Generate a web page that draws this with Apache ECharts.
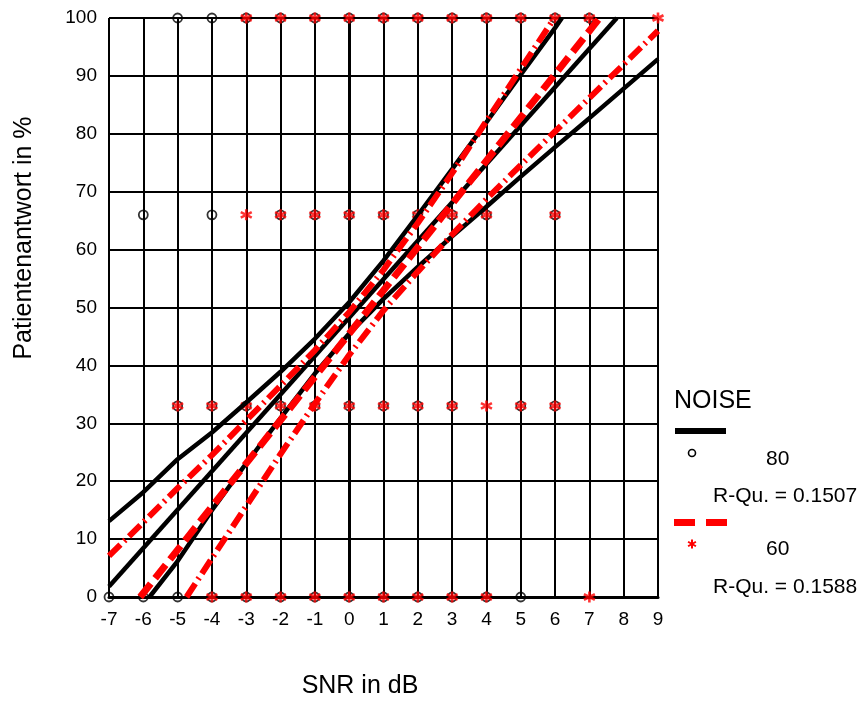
<!DOCTYPE html>
<html>
<head>
<meta charset="utf-8">
<title>Patientenantwort vs SNR</title>
<script src="https://cdn.jsdelivr.net/npm/echarts@6/dist/echarts.min.js"></script>
<style>
  html, body { margin: 0; padding: 0; background: #fff; }
  #chart { width: 863px; height: 701px; }
</style>
</head>
<body>
<div id="chart"></div>
<script>
// x-Achse (SNR in dB) und y-Achse (Patientenantwort in %)
var xMin = -7, xMax = 9, xStep = 1;
var yMin = 0, yMax = 100, yStep = 10;

// Messpunkte NOISE 80 (Kreise): x-Werte je Antwortstufe
var n80At0 = [-7, -6, -5, -4, -3, -2, -1, 0, 1, 2, 3, 4, 5];
var n80At33 = [-5, -4, -3, -2, -1, 0, 1, 2, 3, 5, 6];
var n80At66 = [-6, -4, -2, -1, 0, 1, 2, 3, 4, 6];
var n80At100 = [-5, -4, -3, -2, -1, 0, 1, 2, 3, 4, 5, 6, 7];

// Messpunkte NOISE 60 (Sterne)
var n60At0 = [-4, -3, -2, -1, 0, 1, 2, 3, 4, 7];
var n60At33 = [-5, -4, -3, -2, -1, 0, 1, 2, 3, 4, 5, 6];
var n60At66 = [-3, -2, -1, 0, 1, 2, 3, 4, 6];
var n60At100 = [-3, -2, -1, 0, 1, 2, 3, 4, 5, 6, 7, 9];

// Regressionsgerade + Konfidenzbänder NOISE 80
var fit80 = [[-7, 1.8], [7.8, 100]];
var upper80 = [[-7, 13.1], [-6, 18.1], [-5, 23.8], [-4, 28.4], [-3, 33.6], [-2, 38.9], [-1, 44.6], [0, 50.9],
  [1, 58.1], [2, 65.9], [3, 73.9], [4, 82.0], [5, 90.2], [6, 98.3], [6.2, 100]];
var lower80 = [[-5.82, 0], [-5, 6.2], [-4, 15.0], [-3, 23.1], [-2, 30.9], [-1, 38.6], [0, 45.5], [1, 51.5],
  [2, 57.0], [3, 62.3], [4, 67.4], [5, 72.6], [6, 77.7], [7, 82.7], [8, 87.8], [9, 92.9]];

// Regressionsgerade + Konfidenzbänder NOISE 60
var fit60 = [[-6.09, 0], [7.3, 100]];
var upper60 = [[-7, 7.1], [-6, 12.9], [-5, 18.8], [-4, 24.5], [-3, 30.5], [-2, 36.5], [-1, 42.6], [0, 49.2],
  [1, 56.5], [2, 64.6], [3, 73.2], [4, 82.2], [5, 91.2], [5.98, 100]];
var lower60 = [[-4.74, 0], [-4, 6.7], [-3, 15.7], [-2, 24.7], [-1, 33.4], [0, 41.8], [1, 49.5], [2, 56.2],
  [3, 62.6], [4, 68.7], [5, 74.6], [6, 80.4], [7, 86.2], [8, 92.0], [9, 97.8]];

var legendTitle = 'NOISE';
var legendNames = ['80', '60'];
var legendRsq = ['R-Qu. = 0.1507', 'R-Qu. = 0.1588'];

var FONT = '"Liberation Sans", Arial, sans-serif';
var STAR = 'path://M5,0L5,10M0.67,2.5L9.33,7.5M0.67,7.5L9.33,2.5';

function toPoints(xs, y) {
  return xs.map(function (x) { return [x, y]; });
}

// kleiner Stern (*) für die Legende aus drei Strichen
function legendStar(cx, cy, r) {
  var arms = [[0, -r, 0, r], [-r * 0.87, -r / 2, r * 0.87, r / 2], [-r * 0.87, r / 2, r * 0.87, -r / 2]];
  return arms.map(function (a) {
    return {
      type: 'line',
      shape: { x1: cx + a[0], y1: cy + a[1], x2: cx + a[2], y2: cy + a[3] },
      style: { stroke: '#ff0000', lineWidth: 2 }
    };
  });
}

function echarts_1() {
  var myChart = echarts.init(document.getElementById('chart'));

  var pts80 = [].concat(toPoints(n80At0, 0), toPoints(n80At33, 33), toPoints(n80At66, 66), toPoints(n80At100, 100));
  var pts60 = [].concat(toPoints(n60At0, 0), toPoints(n60At33, 33), toPoints(n60At66, 66), toPoints(n60At100, 100));

  function lineSeries(data, color, width, type) {
    return {
      type: 'line',
      data: data,
      symbol: 'none',
      silent: true,
      lineStyle: { color: color, width: width, type: type, cap: 'butt' }
    };
  }

  var option = {
    animation: false,
    backgroundColor: '#fff',
    grid: { left: 109, right: 205, top: 18, bottom: 104 },
    xAxis: {
      type: 'value',
      min: xMin, max: xMax, interval: xStep,
      axisLine: { show: true, lineStyle: { color: '#000', width: 3 } },
      axisTick: { show: false },
      splitLine: { show: true, lineStyle: { color: '#000', width: 2 } },
      axisLabel: { color: '#000', fontSize: 19, fontFamily: FONT, margin: 13 }
    },
    yAxis: {
      type: 'value',
      min: yMin, max: yMax, interval: yStep,
      axisLine: { show: true, lineStyle: { color: '#000', width: 3 } },
      axisTick: { show: false },
      splitLine: { show: true, lineStyle: { color: '#000', width: 2 } },
      axisLabel: { color: '#000', fontSize: 19, fontFamily: FONT, margin: 12 }
    },
    series: [
      {
        type: 'scatter',
        data: pts80,
        symbol: 'circle',
        symbolSize: 9,
        silent: true,
        itemStyle: { color: 'rgba(0,0,0,0)', borderColor: '#000', borderWidth: 1.8 }
      },
      {
        type: 'scatter',
        data: pts60,
        symbol: STAR,
        symbolSize: 11,
        silent: true,
        itemStyle: { color: '#ff0000', borderColor: '#ff0000', borderWidth: 2.6 }
      },
      lineSeries(upper80, '#000', 4.5, 'solid'),
      lineSeries(fit80, '#000', 4.5, 'solid'),
      lineSeries(lower80, '#000', 4.5, 'solid'),
      lineSeries(upper60, '#ff0000', 6, [16, 5, 2, 5]),
      lineSeries(fit60, '#ff0000', 7, [17, 7]),
      lineSeries(lower60, '#ff0000', 6, [16, 5, 2, 5])
    ],
    graphic: [
      // Achsentitel
      {
        type: 'text', x: 24, y: 238, rotation: Math.PI / 2,
        style: { text: 'Patientenantwort in %', font: '25px ' + FONT, fill: '#000', align: 'center', verticalAlign: 'middle' }
      },
      {
        type: 'text', x: 360, y: 686,
        style: { text: 'SNR in dB', font: '25px ' + FONT, fill: '#000', align: 'center', verticalAlign: 'middle' }
      },
      // Legende
      {
        type: 'text', x: 674, y: 401,
        style: { text: legendTitle, font: '25px ' + FONT, fill: '#000', align: 'left', verticalAlign: 'middle' }
      },
      { type: 'rect', shape: { x: 675, y: 428, width: 51, height: 6 }, style: { fill: '#000' } },
      { type: 'circle', shape: { cx: 692, cy: 453, r: 3.5 }, style: { fill: 'none', stroke: '#000', lineWidth: 1.6 } },
      {
        type: 'text', x: 766, y: 459,
        style: { text: legendNames[0], font: '21px ' + FONT, fill: '#000', align: 'left', verticalAlign: 'middle' }
      },
      {
        type: 'text', x: 713, y: 496,
        style: { text: legendRsq[0], font: '21px ' + FONT, fill: '#000', align: 'left', verticalAlign: 'middle' }
      },
      { type: 'rect', shape: { x: 674, y: 519, width: 21, height: 7 }, style: { fill: '#ff0000' } },
      { type: 'rect', shape: { x: 706, y: 519, width: 21, height: 7 }, style: { fill: '#ff0000' } },
      {
        type: 'text', x: 766, y: 549,
        style: { text: legendNames[1], font: '21px ' + FONT, fill: '#000', align: 'left', verticalAlign: 'middle' }
      },
      {
        type: 'text', x: 713, y: 587,
        style: { text: legendRsq[1], font: '21px ' + FONT, fill: '#000', align: 'left', verticalAlign: 'middle' }
      }
    ].concat(legendStar(692, 544, 4.5))
  };

  myChart.setOption(option);
  window.addEventListener('resize', function () {
    myChart.resize();
  });
}

echarts_1();
</script>
</body>
</html>
